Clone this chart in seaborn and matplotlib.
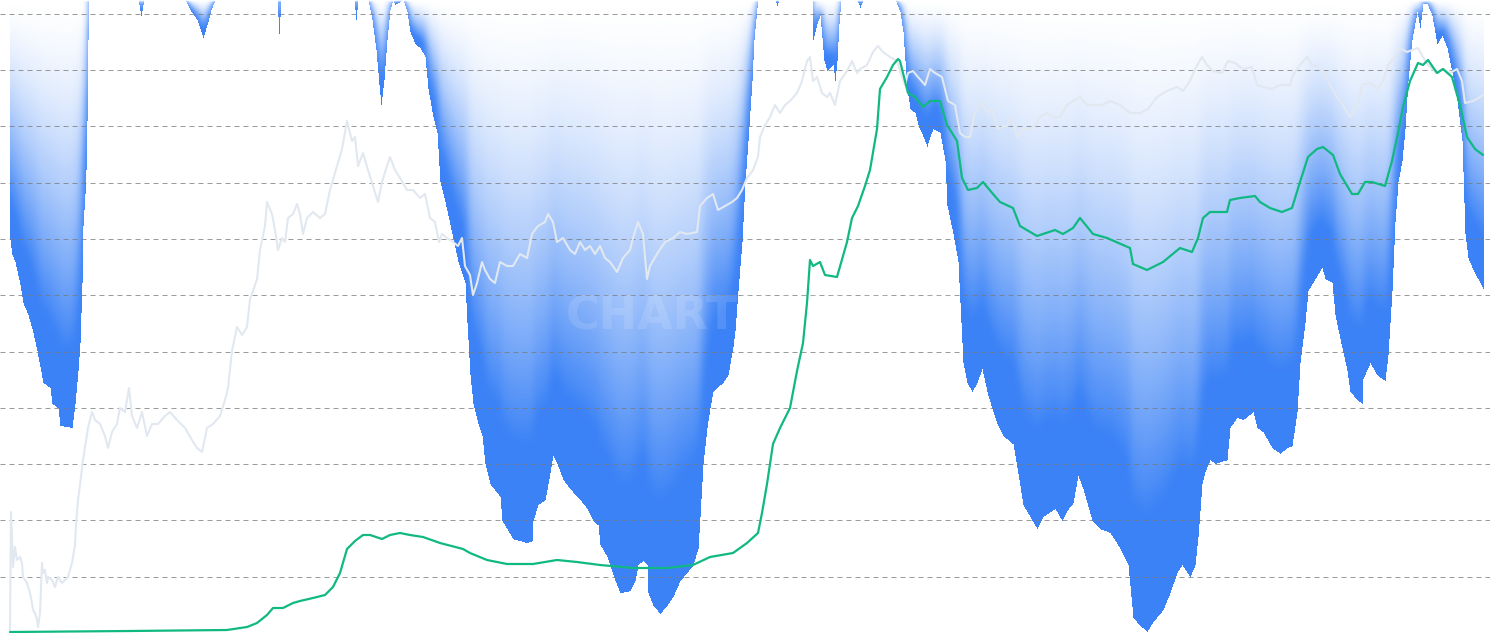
import numpy as np
import matplotlib
matplotlib.use("Agg")
import matplotlib.pyplot as plt
import seaborn as sns
from matplotlib.ticker import MultipleLocator

sns.set_theme(style="white")

# ---------------- data ----------------
# drawdown from all-time high, in percent
dd_day = [0, 2, 5, 10, 13, 18, 23, 27, 30, 33, 40, 42, 48, 50, 62, 65, 68, 70, 72, 73, 75, 76, 77, 78, 79,
          128, 131, 134, 175, 180, 187, 193, 197, 201, 205, 267, 269, 271, 344, 346, 348,
          358, 362, 366, 369, 371, 374, 377, 380, 383, 385, 390, 393,
          397, 400, 405, 410, 415, 418, 423, 427, 430, 435, 442, 448, 455, 457, 460, 463, 468, 472, 475, 480,
          490, 492, 497, 503, 517, 522, 523, 528, 535, 538, 543, 547, 553, 560, 570, 577, 583, 588, 590, 597,
          605, 610, 620, 625, 628, 633, 637, 638, 643, 650, 657, 663, 670, 677, 683, 688, 690, 693, 697, 700,
          703, 707, 713, 718, 723, 725, 728, 732, 735, 738, 742, 744, 747, 748,
          765, 767, 769, 802, 803, 807, 810, 814, 817, 823, 825, 827, 829, 831, 847, 850, 853, 885,
          890, 893, 895, 897, 900, 905, 908, 913, 917, 920, 923, 930, 935, 937, 943, 948, 950, 953, 957, 962,
          967, 972, 978, 987, 993, 1003, 1007, 1013, 1020, 1027, 1033, 1045, 1052, 1057, 1063, 1068, 1073,
          1082, 1090, 1100, 1110, 1118, 1123, 1130, 1137, 1143, 1153, 1160, 1167, 1172, 1180, 1185, 1188,
          1192, 1195, 1200, 1205, 1217, 1220, 1227, 1233, 1243, 1247, 1253, 1262, 1270, 1277, 1282, 1287,
          1290, 1295, 1298, 1305, 1312, 1315, 1322, 1325, 1330, 1337, 1340, 1347, 1352, 1353, 1360, 1367,
          1375, 1378, 1382, 1385, 1388, 1392, 1395, 1398, 1402, 1407, 1410, 1413, 1417, 1422, 1427, 1432,
          1437, 1442, 1447, 1452, 1455, 1458, 1463, 1470, 1473]
dd_pct = [-37.9, -40.3, -41.4, -45.0, -47.9, -49.8, -52.6, -55.5, -58.0, -60.5, -61.3, -63.8, -64.5, -67.3,
          -67.6, -63.8, -58.6, -54.2, -44.7, -35.7, -30.7, -26.9, -19.1, -6.3, 0,
          0, -2.5, 0, 0, -1.6, -3.2, -6.0, -4.0, -1.6, 0, 0, -5.4, 0, 0, -3.2, 0,
          0, -3.2, -7.9, -13.4, -16.6, -12.6, -6.3, -1.6, 0, -0.8, -0.3, 0,
          -1.9, -5.1, -7.0, -7.6, -9.0, -14.1, -18.5, -21.0, -28.8, -31.9, -37.0, -41.4, -44.7, -51.0, -59.3,
          -63.8, -67.0, -68.9, -73.3, -76.5,
          -78.5, -82.3, -83.6, -85.2, -85.8, -85.5, -82.3, -79.8, -79.0, -76.5, -72.0, -73.3, -75.8, -77.3,
          -79.0, -80.4, -82.3, -83.0, -86.1, -88.0,
          -91.8, -93.7, -93.4, -91.8, -89.3, -88.6, -89.3, -93.7, -95.7, -97.0, -95.7, -94.3, -91.8, -90.5,
          -89.3, -86.7, -81.7, -73.3, -67.6, -64.5,
          -61.9, -61.3, -60.5, -59.3, -54.8, -52.3, -46.0, -38.2, -28.8, -22.3, -12.8, -6.3, -1.3, 0,
          0, -0.9, 0, 0, -6.3, -3.8, -2.5, -9.6, -11.2, -10.3, -12.8, -9.6, -3.8, 0, 0, -1.3, 0, 0,
          -1.9, -5.1, -9.6, -14.1, -17.2, -17.9, -19.8, -21.6, -23.2, -21.6, -20.4, -21.0, -25.4, -32.5, -37.0,
          -41.4, -47.9, -57.4, -60.5, -61.9,
          -60.5, -58.3, -62.6, -67.0, -68.9, -70.2, -73.9, -79.8, -81.7, -83.6, -81.7, -80.4, -82.3, -80.7,
          -79.5, -75.2, -77.3,
          -82.3, -83.6, -84.2, -86.7, -89.3, -97.6, -98.9, -99.8, -98.3, -96.4, -93.7, -90.5, -89.3, -91.2,
          -89.3, -84.8,
          -76.5, -74.6, -72.7, -73.3, -72.7, -67.6, -66.0, -66.4, -65.1, -67.6, -68.3, -70.8, -71.7, -70.8,
          -70.5, -65.1,
          -57.4, -51.0, -46.0, -44.1, -42.3, -44.1, -44.7, -49.8, -53.6, -58.6, -61.9, -63.2, -63.8, -59.9,
          -57.4, -59.3,
          -60.2, -56.1, -46.0, -35.1, -28.8, -25.4, -20.4, -12.8, -6.3, -1.9, -4.4, -0.6, -0.6, -2.5, -7.0,
          -5.7, -7.6, -11.5, -16.0, -22.3, -37.0, -40.8, -42.7, -44.7, -45.7]

# price (light grey line), arbitrary log-like units
price_day = [0, 1, 2, 3, 5, 7, 10, 12, 13, 17, 20, 22, 23, 25, 27, 28, 30, 32, 33, 35, 37, 38, 42, 45, 48,
             52, 55, 58, 62, 65, 66, 68, 70, 73, 78, 82, 85, 90, 95, 98, 102, 107, 110, 115, 119, 122, 127,
             132, 137, 142, 148, 155, 160, 167, 175, 182, 187, 192, 197, 203, 210, 215, 218, 222, 227, 232,
             237, 240, 243, 247, 250, 255, 257, 262, 265, 268, 272, 275, 278, 283, 287, 290, 293, 297, 303,
             310, 315, 320, 327, 332, 337, 342, 345, 348, 353, 358, 363, 368, 372, 377, 380, 385, 390, 397,
             403, 410, 415, 420, 425, 429, 432, 437, 443, 448, 452, 455, 460, 463, 467, 472, 475, 480, 485,
             490, 497, 503, 510, 517, 522, 528, 535, 538, 543, 547, 553, 560, 565, 570, 575, 580, 585, 590,
             595, 600, 607, 613, 620, 623, 628, 633, 637, 640, 647, 655, 663, 670, 677, 687, 690, 697, 703,
             708, 715, 722, 727, 732, 737, 743, 748, 750, 755, 760, 765, 770, 775, 780, 787, 792, 797, 800,
             803, 807, 812, 817, 820, 825, 830, 837, 842, 847, 850, 857, 863, 868, 873, 880, 887, 890, 895,
             898, 903, 908, 915, 920, 925, 932, 938, 945, 950, 955, 960, 965, 972, 977, 982, 988, 997, 1002,
             1007, 1013, 1022, 1030, 1037, 1043, 1050, 1057, 1063, 1070, 1077, 1083, 1092, 1100, 1110, 1120,
             1130, 1138, 1147, 1157, 1167, 1173, 1180, 1185, 1192, 1197, 1203, 1212, 1218, 1225, 1233, 1242,
             1247, 1253, 1262, 1270, 1280, 1283, 1290, 1297, 1302, 1308, 1313, 1320, 1327, 1333, 1340, 1347,
             1352, 1360, 1368, 1373, 1378, 1385, 1390, 1397, 1402, 1408, 1413, 1418, 1427, 1433, 1440, 1447,
             1452, 1455, 1463, 1470, 1473]
price_val = [1, 121, 96, 66, 86, 73, 76, 70, 56, 50, 40, 30, 23, 20, 13, 6, 20, 70, 60, 63, 50, 56, 53, 46, 56,
             50, 53, 56, 70, 88, 108, 133, 148, 173, 205, 221, 213, 209, 197, 185, 201, 209, 225, 221, 245, 217,
             205, 221, 197, 209, 209, 217, 221, 213, 205, 193, 185, 181, 205, 209, 217, 233, 245, 282, 306, 298,
             306, 334, 342, 354, 383, 407, 431, 419, 403, 383, 395, 391, 415, 419, 429, 419, 399, 415, 421,
             415, 419, 443, 467, 484, 512, 492, 496, 467, 480, 463, 447, 431, 451, 467, 476, 463, 455, 443,
             443, 435, 439, 415, 411, 391, 399, 395, 391, 387, 395, 367, 358, 338, 350, 371, 363, 354, 350,
             371, 367, 367, 379, 375, 399, 407, 411, 419, 411, 391, 395, 383, 379, 391, 383, 387, 379, 387,
             375, 371, 361, 375, 383, 395, 411, 399, 354, 367, 379, 391, 395, 401, 399, 401, 427, 435, 439,
             423, 427, 431, 435, 443, 455, 463, 476, 496, 508, 516, 528, 520, 528, 532, 540, 552, 572, 576,
             552, 556, 540, 536, 540, 528, 552, 562, 572, 560, 564, 568, 581, 587, 581, 576, 572, 562, 548,
             560, 562, 556, 548, 564, 560, 556, 532, 528, 500, 496, 496, 520, 532, 520, 524, 504, 508, 516,
             496, 504, 504, 516, 520, 516, 516, 528, 532, 536, 528, 528, 528, 532, 528, 520,
             520, 524, 536, 542, 546, 542, 552, 564, 576, 568, 562, 560, 572, 570, 564, 566,
             548, 546, 544, 548, 548, 558, 568, 576, 568, 566, 562, 548, 536, 528, 516, 526,
             548, 550, 544, 552, 568, 576, 585, 581, 583, 585, 576, 568, 560, 564, 560, 564,
             552, 530, 532, 536, 538]

# second metric (green line)
metric_day = [0, 120, 217, 237, 247, 257, 263, 273, 283, 290, 303, 315, 323, 330, 337, 345, 353, 360, 372, 380,
              390, 400, 413, 430, 453, 460, 477, 497, 523, 547, 567, 590, 623, 657, 683, 700, 723, 737, 748,
              752, 757, 763, 770, 780, 787, 793, 797, 800, 803, 810, 815, 827, 837, 842, 848, 855, 860, 867,
              870, 877, 883, 888, 890, 895, 898, 905, 913, 920, 930, 937, 947, 952, 958, 967, 973, 983, 990,
              1003, 1010, 1027, 1045, 1053, 1063, 1070, 1083, 1097, 1120, 1123, 1137, 1153, 1170, 1182, 1188,
              1193, 1200, 1217, 1220, 1230, 1245, 1250, 1260, 1272, 1282, 1290, 1298, 1307, 1313, 1323, 1330,
              1342, 1348, 1355, 1362, 1375, 1382, 1388, 1393, 1400, 1408, 1413, 1418, 1427, 1433, 1442, 1450,
              1457, 1465, 1473]
metric_val = [1, 2, 3, 6, 10, 18, 25, 25, 30, 32, 35, 38, 46, 60, 84, 92, 98, 98, 94, 98,
              100, 98, 96, 90, 84, 80, 73, 69, 69, 73, 71, 68, 65, 65, 68, 76, 80, 90, 100,
              120, 149, 189, 205, 225, 262, 290, 330, 373, 367, 371, 358, 356, 391, 415, 427, 447, 463, 504,
              544, 556, 568, 574, 572, 552, 540, 536, 526, 532, 532, 508, 492, 455, 443, 445, 451, 439, 431,
              425, 407, 397, 403, 399, 405, 415, 399, 395, 385, 369, 363, 371, 385, 381, 395,
              415, 421, 421, 433, 435, 437, 431, 425, 421, 425, 451, 476, 484, 486, 478, 459,
              439, 439, 451, 451, 447, 472, 500, 526, 552, 570, 568, 573, 560, 564, 556, 528,
              496, 484, 478]

# ---------------- figure ----------------
BLUE = np.array([59, 130, 246]) / 255.0
GREY = "#e2e8f0"
GREEN = "#10b981"

fig = plt.figure(figsize=(14.9, 6.33), dpi=100)
fig.patch.set_facecolor("white")

ax = fig.add_axes([0, 0, 1, 1])
ax.set_xlim(-10, 1480)
ax.set_ylim(-100, 0)
ax.axis("off")

# gradient-filled drawdown (per column: transparent at top, solid at the bottom)
ncol = int(dd_day[-1]) + 1
cols = np.arange(ncol)
depth = -np.interp(cols, dd_day, dd_pct)
nrow = 633
r = (np.arange(nrow) + 0.5) * 100.0 / nrow
R = r[:, None]
D = np.maximum(depth[None, :], 0.4)
a0 = np.clip(R / (0.82 * D), 0, 1) ** 1.5
half = 12
kern = np.exp(-0.5 * (np.arange(-half, half + 1) / 3.0) ** 2)
kern /= kern.sum()
padded = np.pad(a0, ((0, 0), (half, half)), mode="edge")
alpha = np.array([np.convolve(row, kern, mode="valid") for row in padded])
alpha[R > depth[None, :]] = 0.0
img = np.zeros((nrow, ncol, 4))
img[..., :3] = BLUE
img[..., 3] = alpha
ax.imshow(img, extent=(-0.5, ncol - 0.5, -100, 0), aspect="auto",
          interpolation="nearest", origin="upper", zorder=1)

# overlay axes for lines and grid
ax2 = fig.add_axes([0, 0, 1, 1])
ax2.patch.set_alpha(0)
ax2.set_xlim(-10, 1480)
ax2.set_ylim(0, 633)
ax2.yaxis.set_major_locator(MultipleLocator(56.3))
ax2.set_axisbelow(True)
ax2.grid(axis="y", color="#7a7a7a", alpha=0.75, linewidth=0.72, linestyle=(0, (5, 4)))
ax2.grid(axis="x", visible=False)
ax2.tick_params(left=False, bottom=False, labelleft=False, labelbottom=False)
for s in ax2.spines.values():
    s.set_visible(False)

ax2.text(0.511, 0.5, "CHARTINSPECT", transform=ax2.transAxes, ha="center", va="center",
         fontsize=33, fontweight="bold", color="white", alpha=0.12, zorder=1.5)

sns.lineplot(x=price_day, y=price_val, ax=ax2, color=GREY, linewidth=1.5,
             estimator=None, sort=False, zorder=3)
sns.lineplot(x=metric_day, y=metric_val, ax=ax2, color=GREEN, linewidth=1.6,
             estimator=None, sort=False, zorder=4)
ax2.set_xlabel("")
ax2.set_ylabel("")

fig.savefig("out.png", dpi=100, facecolor="white")
